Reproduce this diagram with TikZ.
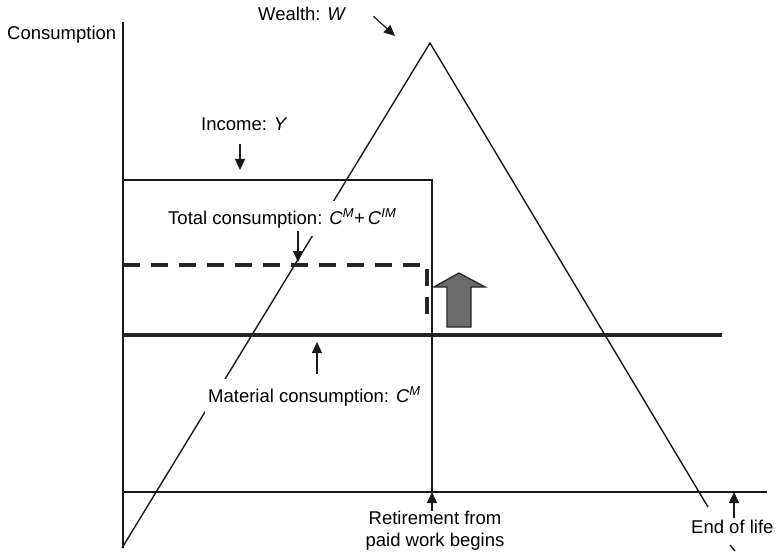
\documentclass[tikz,border=0pt]{standalone}
\usepackage{fontspec}
\setmainfont{Liberation Sans}
\usetikzlibrary{positioning,arrows.meta}

\begin{document}
\begin{tikzpicture}[x=1pt,y=-1pt,
      lbl/.style={font=\fontsize{18.5}{22}\selectfont,inner sep=0pt,anchor=base west},
      cover/.style={fill=white,inner xsep=3pt,inner ysep=8pt},
      plain/.style={line width=1.4pt,color=black!90},
      ptr/.style={-{Triangle[length=11pt,width=10pt]},line width=1.2pt,color=black!90},
      matline/.style={line width=3.6pt,color=black!85},
      totline/.style={line width=3.6pt,color=black!85,dash pattern=on 17pt off 11pt}]
    \useasboundingbox (0,0) rectangle (776,556);
    % axes and curves
    \coordinate (o) at (123,492);
    \coordinate (ytop) at (123,22);
    \coordinate (ybot) at (123,548);
    \coordinate (xend) at (767,492);
    \coordinate (ret) at (432,492);
    \coordinate (eol) at (734,492);
    \coordinate (wpeak) at (430,43);
    \coordinate (wstart) at (122,548);
    \coordinate (wend) at (708,507);
    \draw[plain] (ytop) -- (ybot);
    \draw[plain] (o) -- (xend);
    \draw[plain] (wstart) -- (wpeak) -- (wend);
    \draw[matline] (123,335) -- (722,335);
    \draw[totline] (123,265) -- (427,265) -- (427,321);
    % labels
    \node[lbl] (cons) at (7,40) {Consumption};
    \node[lbl] (wl) at (258,21) {Wealth: \textit{W}};
    \node[lbl] (inc) at (201,131) {Income: \textit{Y}};
    \node[lbl,cover,anchor=base west] (tot) at (165,224)
      {Total consumption: \textit{C}\textsuperscript{\textit{M}}+\,\textit{C}\textsuperscript{\textit{IM}}};
    \node[lbl,cover,anchor=base west] (mat) at (205,402)
      {Material consumption: \textit{C}\textsuperscript{\textit{M}}};
    \node[lbl,align=center,anchor=north] (retl) at (435,511)
      {Retirement from\\[0pt]paid work begins};
    \node[lbl] (eoll) at (691,533) {End of life};
    % income and retirement
    \draw[plain] (123,180) -- (432,180) -- (ret);
    % shift from material to immaterial consumption
    \draw[line width=1.3pt,fill=black!58,draw=black!85]
      (447,327) -- (471,327) -- (471,287) -- (485,287) -- (459,273)
      -- (434,287) -- (447,287) -- cycle;
    % pointers
    \coordinate (wtip) at (395,36);
    \coordinate (itip) at (240,170);
    \coordinate (ttip) at (298,262);
    \coordinate (mtip) at (317,342);
    \draw[ptr] ([xshift=27pt,yshift=-2pt]wl.east) -- (wtip);
    \draw[ptr,shorten <=13pt] (inc.south -| itip) -- (itip);
    \draw[ptr,shorten <=-5pt] (tot.south -| ttip) -- (ttip);
    \draw[ptr,shorten <=5pt] (mat.north -| mtip) -- (mtip);
    \draw[ptr] (retl.north -| ret) -- (ret);
    \draw[ptr,shorten <=1pt] (eoll.north -| eol) -- (eol);
    \draw[plain] (730,545) -- (735,551);
  \end{tikzpicture}
\end{document}
